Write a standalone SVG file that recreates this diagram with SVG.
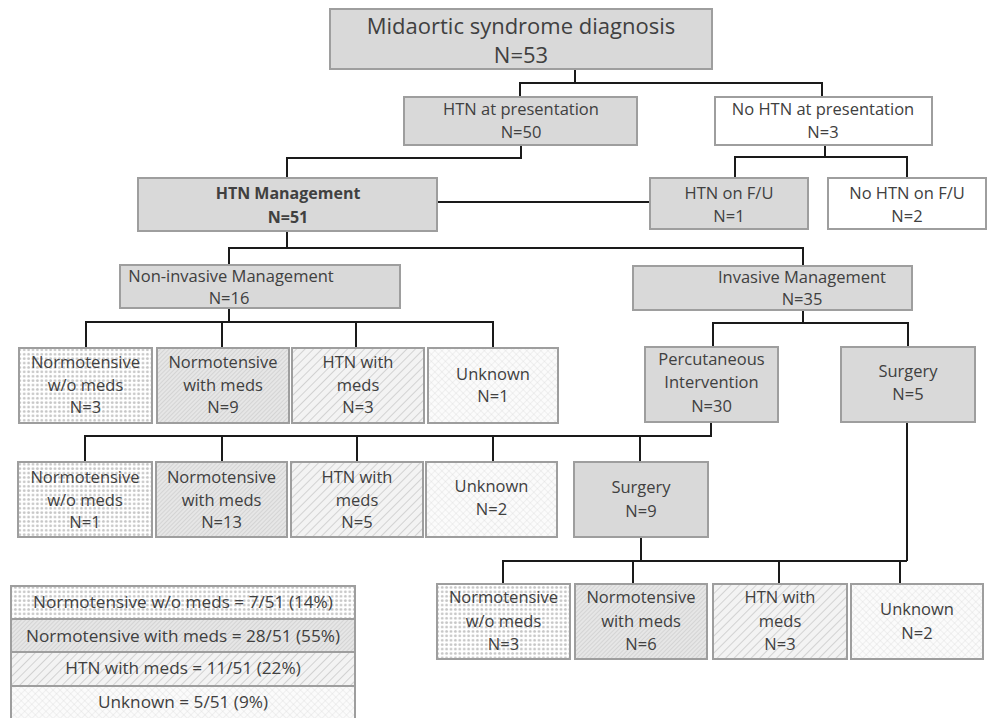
<svg xmlns="http://www.w3.org/2000/svg" width="987" height="718" viewBox="0 0 987 718">
<defs>
<pattern id="pDots" patternUnits="userSpaceOnUse" width="4.4" height="4.4">
<rect width="4.4" height="4.4" fill="#ffffff"/>
<circle cx="2.2" cy="2.2" r="1.4" fill="#c6c6c6"/>
</pattern>
<pattern id="pFine" patternUnits="userSpaceOnUse" width="3" height="3" patternTransform="rotate(45)">
<rect width="3" height="3" fill="#e6e6e6"/>
<line x1="0" y1="0" x2="0" y2="3" stroke="#c0c0c0" stroke-width="0.9"/>
</pattern>
<pattern id="pWide" patternUnits="userSpaceOnUse" width="6" height="6" patternTransform="rotate(45)">
<rect width="6" height="6" fill="#f3f3f3"/>
<line x1="0" y1="0" x2="0" y2="6" stroke="#c4c4c4" stroke-width="1.4"/>
</pattern>
<pattern id="pCross" patternUnits="userSpaceOnUse" width="5" height="5" patternTransform="rotate(45)">
<rect width="5" height="5" fill="#fbfbfb"/>
<line x1="0" y1="0" x2="0" y2="5" stroke="#dcdcdc" stroke-width="0.8"/>
<line x1="0" y1="0" x2="5" y2="0" stroke="#dcdcdc" stroke-width="0.8"/>
</pattern>
</defs>
<style>
.box{stroke:#9e9e9e;stroke-width:2}
.g{fill:#d9d9d9}
.w{fill:#ffffff}
.dots{fill:url(#pDots)}
.fine{fill:url(#pFine)}
.wide{fill:url(#pWide)}
.cross{fill:url(#pCross)}
text{font-family:"Open Sans","Noto Sans","Liberation Sans",sans-serif;font-size:16.5px;fill:#404040;text-anchor:middle}
.big{font-size:22px}
.b{font-weight:bold;font-size:16px}
.leg{font-size:17.2px}
.conn{fill:none;stroke:#1a1a1a;stroke-width:2}
</style>
<g id="connectors" class="conn">
<path d="M575,69 V83 M520,97 V83 H822 V97"/>
<path d="M521,145 V158 H287 V178"/>
<path d="M437,202 H650"/>
<path d="M825,145 V157 M735,178 V157 H907 V178"/>
<path d="M287,231 V248 M229,265 V248 H803 V266"/>
<path d="M229,308 V322 M86,348 V322 H493 V348 M222,322 V348 M356,322 V348"/>
<path d="M803,310 V323 M713,347 V323 H908 V347"/>
<path d="M711,422 V436 H85 V462 M222,436 V462 M357,436 V462 M493,436 V462 M640,436 V462"/>
<path d="M641,537 V561 M503,584 V561 H907 M633,561 V584 M779,561 V584 M900,561 V584"/>
<path d="M907,422 V561"/>
</g>
<g id="n-main"><rect class="box g" x="330" y="9" width="382" height="60"/><text class="big" x="521" y="34">Midaortic syndrome diagnosis</text><text class="big" x="521" y="63">N=53</text></g>
<g id="n-htnpres"><rect class="box g" x="404" y="97" width="233" height="48"/><text x="521" y="115">HTN at presentation</text><text x="521" y="138">N=50</text></g>
<g id="n-nohtnpres"><rect class="box w" x="715" y="97" width="217" height="48"/><text x="823" y="115">No HTN at presentation</text><text x="823" y="138">N=3</text></g>
<g id="n-htnmgmt"><rect class="box g" x="138" y="178" width="299" height="53"/><text class="b" x="288" y="199">HTN Management</text><text class="b" x="288" y="223">N=51</text></g>
<g id="n-htnfu"><rect class="box g" x="650" y="178" width="158" height="51"/><text x="729" y="199">HTN on F/U</text><text x="729" y="222">N=1</text></g>
<g id="n-nohtnfu"><rect class="box w" x="828" y="178" width="158" height="51"/><text x="907" y="199">No HTN on F/U</text><text x="907" y="222">N=2</text></g>
<g id="n-noninv"><rect class="box g" x="120" y="265" width="280" height="43"/><text x="231" y="282">Non-invasive Management</text><text x="229" y="304">N=16</text></g>
<g id="n-inv"><rect class="box g" x="633" y="266" width="279" height="44"/><text x="802" y="283">Invasive Management</text><text x="802" y="305">N=35</text></g>
<g id="n-r1a"><rect class="box dots" x="19" y="348" width="133" height="75"/><text x="85.5" y="368">Normotensive</text><text x="85.5" y="390.5">w/o meds</text><text x="85.5" y="413">N=3</text></g>
<g id="n-r1b"><rect class="box fine" x="157" y="348" width="132" height="75"/><text x="223" y="368">Normotensive</text><text x="223" y="390.5">with meds</text><text x="223" y="413">N=9</text></g>
<g id="n-r1c"><rect class="box wide" x="292" y="348" width="132" height="75"/><text x="358" y="368">HTN with</text><text x="358" y="390.5">meds</text><text x="358" y="413">N=3</text></g>
<g id="n-r1d"><rect class="box cross" x="428" y="348" width="130" height="75"/><text x="493" y="380">Unknown</text><text x="493" y="402">N=1</text></g>
<g id="n-perc"><rect class="box g" x="645" y="347" width="133" height="75"/><text x="711.5" y="365">Percutaneous</text><text x="711.5" y="388">Intervention</text><text x="711.5" y="412">N=30</text></g>
<g id="n-surg5"><rect class="box g" x="841" y="347" width="134" height="75"/><text x="908" y="377">Surgery</text><text x="908" y="400">N=5</text></g>
<g id="n-r2a"><rect class="box dots" x="18" y="462" width="134" height="75"/><text x="85" y="483">Normotensive</text><text x="85" y="505.5">w/o meds</text><text x="85" y="528">N=1</text></g>
<g id="n-r2b"><rect class="box fine" x="156" y="462" width="131" height="75"/><text x="221.5" y="483">Normotensive</text><text x="221.5" y="505.5">with meds</text><text x="221.5" y="528">N=13</text></g>
<g id="n-r2c"><rect class="box wide" x="291" y="462" width="132" height="75"/><text x="357" y="483">HTN with</text><text x="357" y="505.5">meds</text><text x="357" y="528">N=5</text></g>
<g id="n-r2d"><rect class="box cross" x="426" y="462" width="131" height="75"/><text x="491.5" y="492">Unknown</text><text x="491.5" y="515">N=2</text></g>
<g id="n-surg9"><rect class="box g" x="574" y="462" width="134" height="75"/><text x="641" y="493">Surgery</text><text x="641" y="517">N=9</text></g>
<g id="n-r3a"><rect class="box dots" x="437" y="584" width="133" height="75"/><text x="503.5" y="603">Normotensive</text><text x="503.5" y="627">w/o meds</text><text x="503.5" y="650">N=3</text></g>
<g id="n-r3b"><rect class="box fine" x="575" y="584" width="132" height="75"/><text x="641" y="603">Normotensive</text><text x="641" y="627">with meds</text><text x="641" y="650">N=6</text></g>
<g id="n-r3c"><rect class="box wide" x="713" y="584" width="134" height="75"/><text x="780" y="603">HTN with</text><text x="780" y="627">meds</text><text x="780" y="650">N=3</text></g>
<g id="n-r3d"><rect class="box cross" x="851" y="584" width="132" height="75"/><text x="917" y="615">Unknown</text><text x="917" y="639">N=2</text></g>
<g id="legend">
<rect class="box dots" x="11" y="586" width="344" height="33"/><text class="leg" x="183" y="608">Normotensive w/o meds = 7/51 (14%)</text>
<rect class="box fine" x="11" y="619" width="344" height="33"/><text class="leg" x="183" y="642">Normotensive with meds = 28/51 (55%)</text>
<rect class="box wide" x="11" y="652" width="344" height="34"/><text class="leg" x="183" y="674">HTN with meds = 11/51 (22%)</text>
<rect class="box cross" x="11" y="686" width="344" height="34"/><text class="leg" x="183" y="708">Unknown = 5/51 (9%)</text>
</g>
</svg>
